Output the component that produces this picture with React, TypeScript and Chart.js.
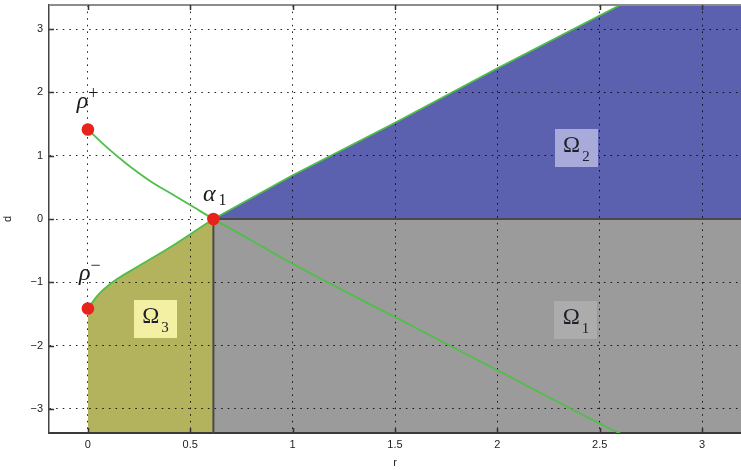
import React, { useEffect, useRef } from "react";
import { Chart, registerables } from "chart.js";

Chart.register(...registerables);

// ---------- axes ----------
const xTickValues = [0, 0.5, 1, 1.5, 2, 2.5, 3];
const xTickLabels = ["0", "0.5", "1", "1.5", "2", "2.5", "3"];
const yTickValues = [-3, -2, -1, 0, 1, 2, 3];
const yTickLabels = ["−3", "−2", "−1", "0", "1", "2", "3"];
const rMin = -0.19;
const rMax = 3.19;
const dMin = -3.38;
const dMax = 3.38;

// ---------- equilibria ----------
const pointR = [0, 0, 0.613];
const pointD = [1.414, -1.414, 0];

// ---------- curves ----------
// separatrix through rho+ and alpha1
const sepR = [0, 0.09, 0.19, 0.3, 0.42, 0.52, 0.613, 0.8, 0.94, 1.2, 1.53, 2.0, 2.5, 2.6, 2.8];
const sepD = [1.414, 1.14, 0.87, 0.61, 0.375, 0.18, 0, -0.34, -0.6, -1.05, -1.6, -2.39, -3.23, -3.39, -3.74];
// boundary of Omega3 (rho- to alpha1)
const lowR = [0, 0.05, 0.12, 0.25, 0.4, 0.5, 0.613];
const lowD = [-1.414, -1.2, -1.0, -0.74, -0.45, -0.24, 0];
// boundary of Omega2 (alpha1 upward)
const upR = [0.613, 1.0, 1.5, 2.0, 2.6, 3.3];
const upD = [0, 0.69, 1.52, 2.38, 3.38, 4.55];
// Omega1 top edge (d = 0)
const omega1R = [0.613, 3.3];
const omega1D = [0, 0];
// vertical divider r = alpha1
const dividerR = [0.613, 0.613];
const dividerD = [0, -3.5];

// ---------- labels ----------
const regionSubs = ["2", "1", "3"];
const regionR = [2.386, 2.384, 0.33];
const regionD = [1.114, -1.596, -1.572];
const regionBoxColors = ["#a8aad9", "#acacac", "#f4f0a3"];

const pointLabelMain = ["ρ", "ρ", "α"];
const pointLabelSup = ["+", "−", ""];
const pointLabelSub = ["", "", "1"];
const pointLabelR = [-0.054, -0.044, 0.562];
const pointLabelD = [1.754, -0.964, 0.284];

const zip = (xs: number[], ys: number[]) => xs.map((x, i) => ({ x, y: ys[i] }));

const GREEN = "#4fbf47";
const DARK = "#4a4a4a";
const SANS = "'Liberation Sans', Arial, sans-serif";
const SERIF = "'Liberation Serif', 'DejaVu Serif', serif";

const decorPlugin = {
  id: "decor",
  afterDraw(chart: any) {
    const { ctx, chartArea: a, scales } = chart;
    const xs = scales.x;
    const ys = scales.y;
    ctx.save();
    // top frame
    ctx.strokeStyle = "#8c8c8c";
    ctx.lineWidth = 2;
    ctx.beginPath();
    ctx.moveTo(a.left, a.top);
    ctx.lineTo(a.right, a.top);
    ctx.stroke();
    // inward tick marks
    ctx.strokeStyle = "#333";
    ctx.lineWidth = 1.5;
    ctx.beginPath();
    xTickValues.forEach((v) => {
      const px = Math.round(xs.getPixelForValue(v)) + 0.5;
      ctx.moveTo(px, a.bottom);
      ctx.lineTo(px, a.bottom - 5);
      ctx.moveTo(px, a.top);
      ctx.lineTo(px, a.top + 5);
    });
    yTickValues.forEach((v) => {
      const py = Math.round(ys.getPixelForValue(v)) + 0.5;
      ctx.moveTo(a.left, py);
      ctx.lineTo(a.left + 5, py);
    });
    ctx.stroke();

    // region boxes
    regionSubs.forEach((sub, i) => {
      const cx = xs.getPixelForValue(regionR[i]);
      const cy = ys.getPixelForValue(regionD[i]);
      const w = 43;
      const h = 38;
      ctx.fillStyle = regionBoxColors[i];
      ctx.fillRect(Math.round(cx - w / 2), Math.round(cy - h / 2), w, h);
      ctx.fillStyle = "#1e1e28";
      ctx.textBaseline = "alphabetic";
      ctx.textAlign = "left";
      ctx.font = `23px ${SERIF}`;
      const wMain = ctx.measureText("Ω").width;
      ctx.font = `15px ${SERIF}`;
      const wSub = ctx.measureText(sub).width;
      const left = cx - (wMain + 2 + wSub) / 2;
      ctx.font = `23px ${SERIF}`;
      ctx.fillText("Ω", left, cy + 4);
      ctx.font = `15px ${SERIF}`;
      ctx.fillText(sub, left + wMain + 2, cy + 13);
    });

    // point labels
    pointLabelMain.forEach((m, i) => {
      const px = xs.getPixelForValue(pointLabelR[i]);
      const py = ys.getPixelForValue(pointLabelD[i]);
      ctx.fillStyle = "#1a1a1a";
      ctx.textAlign = "left";
      ctx.textBaseline = "alphabetic";
      ctx.font = `italic 24px ${SERIF}`;
      ctx.fillText(m, px, py);
      const wm = ctx.measureText(m).width;
      if (pointLabelSup[i]) {
        ctx.font = `18px ${SERIF}`;
        ctx.fillText(pointLabelSup[i], px + wm, py - 9);
      }
      if (pointLabelSub[i]) {
        ctx.font = `16px ${SERIF}`;
        ctx.fillText(pointLabelSub[i], px + wm + 3, py + 4);
      }
    });
    ctx.restore();
  },
};

const fixPadding = (s: any) => {
  s.paddingTop = 0;
  s.paddingBottom = 0;
  s.paddingLeft = 0;
  s.paddingRight = 0;
};

export default function App() {
  const ref = useRef<HTMLCanvasElement | null>(null);

  useEffect(() => {
    if (!ref.current) return;
    const line = (data: any, extra: any) => ({
      data,
      pointRadius: 0,
      borderWidth: 1.8,
      borderColor: GREEN,
      fill: false,
      tension: 0,
      ...extra,
    });
    const chart = new Chart(ref.current, {
      type: "line",
      data: {
        datasets: [
          {
            type: "line",
            data: zip(pointR, pointD),
            showLine: false,
            pointRadius: 6.3,
            pointBorderWidth: 0,
            pointBackgroundColor: "#e8231c",
            pointBorderColor: "#e8231c",
            order: 0,
          } as any,
          line(zip(sepR, sepD), { order: 1, cubicInterpolationMode: "monotone" }),
          line(zip(lowR, lowD), {
            order: 2,
            fill: "start",
            backgroundColor: "#b4b35d",
            cubicInterpolationMode: "monotone",
          }),
          line(zip(upR, upD), { order: 3, fill: { value: 0 }, backgroundColor: "#5b61ae" }),
          line(zip(omega1R, omega1D), {
            order: 4,
            fill: "start",
            backgroundColor: "#9b9b9b",
            borderColor: DARK,
            borderWidth: 2,
          }),
          line(zip(dividerR, dividerD), { order: 5, borderColor: DARK, borderWidth: 2 }),
        ],
      },
      options: {
        animation: false,
        responsive: false,
        events: [],
        layout: { autoPadding: false, padding: { top: 5, right: 0, left: 0, bottom: 0 } },
        plugins: {
          legend: { display: false },
          tooltip: { enabled: false },
          filler: { drawTime: "beforeDraw" },
        } as any,
        scales: {
          x: {
            type: "linear",
            min: rMin,
            max: rMax,
            afterBuildTicks: (s: any) => {
              s.ticks = xTickValues.map((v) => ({ value: v }));
            },
            afterFit: (s: any) => {
              s.height = 37;
              fixPadding(s);
            },
            grid: { color: "rgba(0,0,0,0.85)", lineWidth: 1, drawTicks: false },
            border: { display: true, color: "#3a3a3a", width: 2, dash: [1.6, 5] },
            ticks: {
              font: { family: SANS, size: 11 },
              color: "#222",
              padding: 5,
              maxRotation: 0,
              callback: (v: any) => {
                const i = xTickValues.indexOf(Number(v));
                return i >= 0 ? xTickLabels[i] : "";
              },
            },
            title: {
              display: true,
              text: "r",
              font: { family: SANS, size: 11 },
              color: "#222",
              padding: { top: 0, bottom: 0 },
            },
          },
          y: {
            type: "linear",
            min: dMin,
            max: dMax,
            afterBuildTicks: (s: any) => {
              s.ticks = yTickValues.map((v) => ({ value: v }));
            },
            afterFit: (s: any) => {
              s.width = 49;
              fixPadding(s);
            },
            grid: { color: "rgba(0,0,0,0.85)", lineWidth: 1, drawTicks: false },
            border: { display: true, color: "#444", width: 1.5, dash: [1.6, 5] },
            ticks: {
              font: { family: SANS, size: 11 },
              color: "#222",
              padding: 6,
              callback: (v: any) => {
                const i = yTickValues.indexOf(Number(v));
                return i >= 0 ? yTickLabels[i] : "";
              },
            },
            title: {
              display: true,
              text: "d",
              font: { family: SANS, size: 11 },
              color: "#222",
              padding: { top: 1, bottom: 0 },
            },
          },
        },
      } as any,
      plugins: [decorPlugin],
    });
    return () => chart.destroy();
  }, []);

  return (
    <div style={{ position: "fixed", left: 0, top: 0, width: 741, height: 470, background: "#fff" }}>
      <canvas ref={ref} width={741} height={470} style={{ display: "block", background: "#fff" }} />
    </div>
  );
}
